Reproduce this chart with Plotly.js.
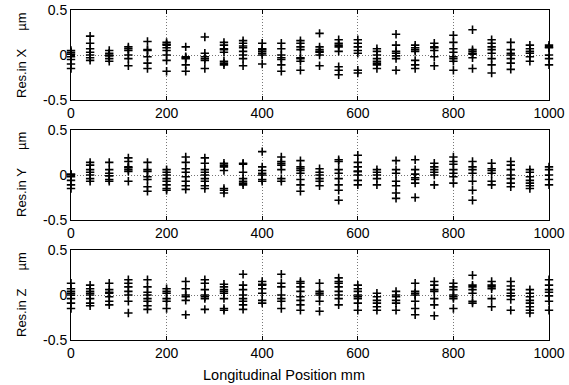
<!DOCTYPE html>
<html>
<head>
<meta charset="utf-8">
<script src="https://cdn.plot.ly/plotly-3.0.1.min.js"></script>
<style>html,body{margin:0;padding:0;background:#fff;}#chart{width:569px;height:385px;}</style>
</head>
<body>
<div id="chart"></div>
<script>
// Measurement positions (mm)
const positions = [0,40,80,120,160,200,240,280,320,360,400,440,480,520,560,600,640,680,720,760,800,840,880,920,960,1000];

// Residuals in X (µm), one list per position
const resX = [
  [0.05,0.03,0.01,-0.02,-0.05,-0.1,-0.15],
  [0.21,0.13,0.07,0.03,0.0,-0.03,-0.06],
  [0.05,0.02,-0.01,-0.04,-0.07,0.0],
  [0.09,0.07,0.05,0.0,-0.04,-0.12],
  [0.15,0.06,0.05,-0.02,-0.09,-0.15],
  [0.14,0.12,0.11,0.08,0.05,0.0,-0.06,-0.18],
  [0.09,-0.02,-0.03,-0.04,-0.11,-0.18],
  [0.2,0.02,-0.02,-0.04,-0.06,-0.15],
  [0.14,0.11,0.07,0.06,0.03,-0.07,-0.09,-0.11],
  [0.16,0.13,0.1,0.08,0.04,0.0,-0.04,-0.12],
  [0.13,0.07,0.06,0.04,0.02,0.0,-0.1],
  [0.13,0.07,0.0,-0.03,-0.05,-0.11,-0.18],
  [0.16,0.13,0.09,0.06,-0.03,-0.04,-0.07,-0.17],
  [0.24,0.09,0.06,0.04,0.03,0.0,-0.12],
  [0.17,0.13,0.11,0.09,0.04,-0.13,-0.17,-0.22],
  [0.17,0.13,0.09,0.05,0.02,-0.17,-0.2],
  [0.07,0.04,0.0,-0.04,-0.07,-0.09,-0.11,-0.15],
  [0.23,0.11,0.04,0.02,-0.01,-0.04,-0.17],
  [0.11,0.08,0.06,0.04,-0.06,-0.11,-0.15],
  [0.13,0.09,0.08,0.05,-0.02,-0.12],
  [0.22,0.14,0.07,0.03,-0.02,-0.04,-0.07,-0.17],
  [0.28,0.06,0.04,0.02,0.01,-0.03,-0.15],
  [0.17,0.13,0.09,0.06,0.02,-0.04,-0.11,-0.2],
  [0.14,0.06,0.02,0.0,-0.04,-0.09,-0.16],
  [0.11,0.07,0.04,0.02,-0.02,-0.07],
  [0.11,0.09,0.08,0.0,-0.04,-0.11]
];

// Residuals in Y (µm)
const resY = [
  [0.01,0.0,-0.02,-0.06,-0.11,-0.15],
  [0.14,0.11,0.06,0.03,0.0,-0.04,-0.07],
  [0.14,0.06,0.02,-0.01,-0.05,-0.07],
  [0.19,0.15,0.09,0.08,0.06,0.04,-0.07],
  [0.14,0.06,0.04,-0.02,-0.05,-0.13,-0.18],
  [0.06,0.03,0.0,-0.04,-0.07,-0.11,-0.15,-0.17],
  [0.2,0.14,0.07,0.03,-0.02,-0.07,-0.12,-0.16],
  [0.19,0.13,0.06,0.03,0.0,-0.04,-0.07,-0.12,-0.15],
  [0.13,0.11,0.09,0.05,-0.15,-0.17,-0.2],
  [0.13,0.12,0.03,-0.04,-0.07,-0.09,-0.11],
  [0.26,0.09,0.05,0.02,0.0,-0.05,-0.07],
  [0.2,0.15,0.13,0.11,0.06,-0.04,-0.07],
  [0.16,0.09,0.07,0.05,0.02,-0.05,-0.11,-0.18],
  [0.07,0.03,0.0,-0.04,-0.07,-0.12],
  [0.17,0.15,0.06,0.02,-0.04,-0.11,-0.17,-0.28],
  [0.22,0.14,0.09,0.04,0.04,0.0,-0.06,-0.11],
  [0.06,0.03,0.0,-0.04,-0.11],
  [0.16,0.06,0.02,-0.07,-0.12,-0.2,-0.26],
  [0.17,0.06,0.01,-0.03,-0.05,-0.09,-0.25],
  [0.13,0.09,0.06,0.03,0.0,-0.11],
  [0.2,0.15,0.12,0.06,0.02,-0.02,-0.09],
  [0.15,0.09,0.06,0.02,-0.07,-0.17,-0.28],
  [0.13,0.07,0.05,0.02,-0.07,-0.11],
  [0.15,0.11,0.06,0.0,-0.04,-0.09,-0.13],
  [0.06,0.03,-0.02,-0.06,-0.09,-0.12,-0.15],
  [0.09,0.06,0.0,-0.05,-0.11]
];

// Residuals in Z (µm)
const resZ = [
  [0.13,0.07,0.04,0.02,0.0,-0.04,-0.09,-0.15],
  [0.11,0.07,0.04,0.02,0.0,-0.04,-0.09,-0.12],
  [0.13,0.06,0.03,0.02,-0.02,-0.07,-0.11],
  [0.17,0.13,0.09,0.04,0.0,-0.07,-0.2],
  [0.17,0.09,0.03,0.0,-0.04,-0.07,-0.12,-0.16],
  [0.07,0.04,0.02,-0.04,-0.07,-0.15],
  [0.15,0.07,0.0,-0.02,-0.06,-0.22],
  [0.17,0.13,0.06,0.0,-0.02,-0.04,-0.16],
  [0.12,0.09,0.06,0.04,0.02,-0.04,-0.15,-0.17],
  [0.23,0.11,0.06,0.0,-0.04,-0.07,-0.11,-0.16],
  [0.15,0.12,0.11,0.07,0.02,-0.06,-0.09],
  [0.23,0.13,0.09,0.0,-0.04,-0.07,-0.15],
  [0.15,0.13,0.09,0.04,-0.02,-0.06,-0.11,-0.17],
  [0.13,0.04,0.02,0.0,-0.07,-0.18],
  [0.19,0.15,0.13,0.09,0.04,0.0,-0.04,-0.11],
  [0.11,0.07,0.04,0.0,-0.02,-0.04,-0.09,-0.17],
  [0.02,-0.02,-0.06,-0.09,-0.13,-0.17],
  [0.04,0.0,-0.02,-0.06,-0.09,-0.17],
  [0.13,0.04,0.02,0.0,-0.07,-0.15,-0.22],
  [0.15,0.11,0.06,0.04,-0.04,-0.11,-0.23],
  [0.13,0.09,0.06,0.0,-0.02,-0.04,-0.15],
  [0.22,0.11,0.09,0.06,0.02,-0.07,-0.09],
  [0.15,0.11,0.09,0.07,-0.04,-0.13],
  [0.15,0.1,0.06,0.02,-0.01,-0.05,-0.17],
  [0.06,0.02,-0.02,-0.06,-0.09,-0.13,-0.17,-0.2],
  [0.17,0.11,0.06,0.03,-0.01,-0.07,-0.17]
];

const xTicks = [0,200,400,600,800,1000];
const yTicks = [-0.5,0,0.5];
const yTickLabels = ['-0.5','0','0.5'];
const panelTitles = ['Res.in X\u00a0\u00a0\u00a0\u00a0\u00a0µm','Res.in Y\u00a0\u00a0\u00a0\u00a0\u00a0µm','Res.in Z\u00a0\u00a0\u00a0\u00a0\u00a0µm'];
const xLabel = 'Longitudinal Position mm';

function flatten(res){
  const xs=[], ys=[];
  res.forEach((col,i)=>col.forEach(v=>{xs.push(positions[i]); ys.push(v);}));
  return {xs, ys};
}

const allRes = [resX, resY, resZ];
const traces = allRes.map((res,k)=>{
  const f = flatten(res);
  return {
    type:'scatter', mode:'markers', x:f.xs, y:f.ys,
    xaxis: k===0?'x':'x'+(k+1), yaxis: k===0?'y':'y'+(k+1),
    cliponaxis:false,
    marker:{symbol:'cross-thin', size:6, line:{width:1.6, color:'#000'}, color:'#000'},
    showlegend:false, hoverinfo:'skip'
  };
});

const family = '"Liberation Sans", Arial, sans-serif';
const tickFont = {family:family, size:14, color:'#000'};
const W = 569-71-20, H = 385-10-45;
const domains = [[1-90/H,1.0],[1-210/H,1-120/H],[0.0,1-240/H]];

const layout = {
  width:569, height:385,
  margin:{l:71, r:20, t:10, b:45},
  paper_bgcolor:'#fff', plot_bgcolor:'#fff',
  font: tickFont,
  showlegend:false,
  annotations: []
};

domains.forEach((d,k)=>{
  const sx = k===0?'':String(k+1);
  layout['xaxis'+sx] = {
    domain:[0,1], range:[0,1000], anchor:'y'+sx,
    tickmode:'array', tickvals:xTicks, ticktext:xTicks.map(String),
    ticks:'inside', ticklen:4, tickcolor:'#000', tickwidth:1,
    showline:true, linecolor:'#000', linewidth:1, mirror:'ticks',
    showgrid:true, gridcolor:'#777', griddash:'1px,2px', gridwidth:1,
    zeroline:false, tickfont:tickFont, fixedrange:true
  };
  layout['yaxis'+sx] = {
    domain:d, range:[-0.5,0.5], anchor:'x'+sx,
    tickmode:'array', tickvals:yTicks, ticktext:yTickLabels,
    ticks:'inside', ticklen:4, tickcolor:'#000', tickwidth:1,
    showline:true, linecolor:'#000', linewidth:1, mirror:'ticks',
    showgrid:true, gridcolor:'#777', griddash:'1px,2px', gridwidth:1,
    zeroline:false, tickfont:tickFont, fixedrange:true
  };
  layout.annotations.push({
    xref:'paper', yref:'paper', x:-(71-21)/W, y:(d[0]+d[1])/2,
    text:panelTitles[k], textangle:-90, showarrow:false,
    xanchor:'center', yanchor:'middle', font:{family:family, size:13, color:'#000'}
  });
});

layout.annotations.push({
  xref:'paper', yref:'paper', x:(284-71)/W, y:-(375-340)/H,
  text:xLabel, showarrow:false, xanchor:'center', yanchor:'middle',
  font:{family:family, size:14.5, color:'#000'}
});

Plotly.newPlot('chart', traces, layout, {staticPlot:true, displayModeBar:false});
</script>
</body>
</html>
